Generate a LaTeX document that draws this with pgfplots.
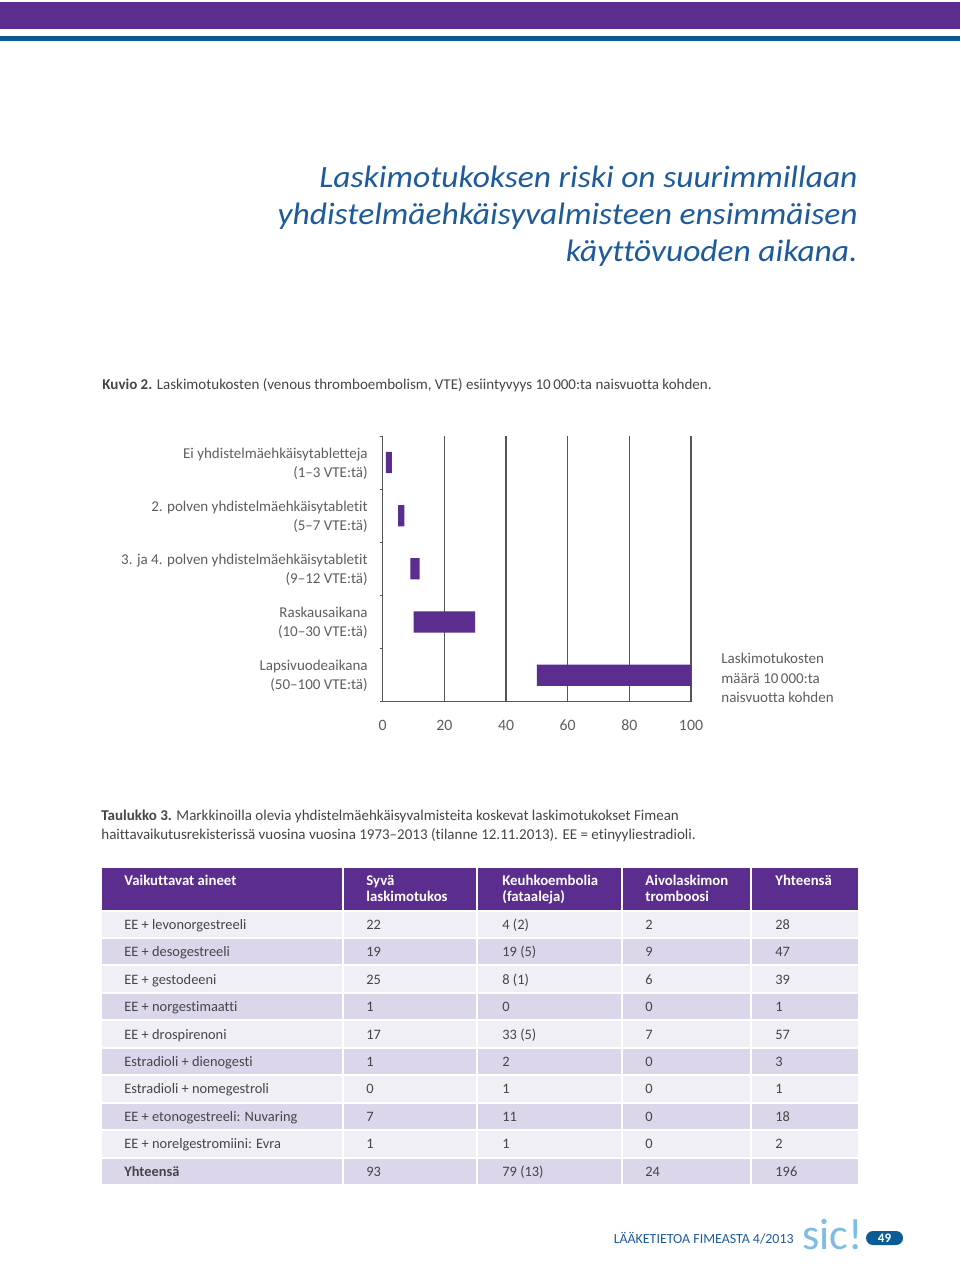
\documentclass[border=0pt]{standalone}
\usepackage{pgfplots}
\pgfplotsset{compat=1.18}
\usepackage{fontspec}
\setmainfont[Ligatures=NoCommon]{Carlito}
\newfontfamily\titlefont[FakeStretch=1.08,Ligatures=NoCommon]{Carlito}
\definecolor{vpurple}{HTML}{5B2D8E}
\definecolor{vblue}{HTML}{0B5C94}
\definecolor{tblue}{HTML}{1E5B9C}
\definecolor{txt}{HTML}{454545}
\definecolor{gtxt}{HTML}{5E5E5E}
\definecolor{gridc}{HTML}{555555}
\definecolor{rowA}{HTML}{F1EFF6}
\definecolor{rowB}{HTML}{DCD6EA}
\definecolor{sicblue}{HTML}{7DBDE3}
\begin{document}
\begin{tikzpicture}[x=0.5pt,y=-0.5pt]
\path[use as bounding box, fill=white] (0,0) rectangle (960,1277);
% header bands
\fill[vpurple] (0,2) rectangle (960,29);
\fill[vblue] (0,36) rectangle (960,41);
% title
\begin{scope}[every node/.style={anchor=base east, inner sep=0, text=tblue, font=\titlefont\fontsize{15.5}{18}\selectfont\itshape}]
\node at (858,188) {Laskimotukoksen riski on suurimmillaan};
\node at (858,225) {yhdistelmäehkäisyvalmisteen ensimmäisen};
\node at (858,262) {käyttövuoden aikana.};
\end{scope}
% figure caption
\node[anchor=base west, inner sep=0, text=txt, font=\fontsize{7.5}{9}\selectfont] at (102,390) {\textbf{Kuvio 2.} Laskimotukosten (venous thromboembolism, VTE) esiintyvyys 10\,000:ta naisvuotta kohden.};
% category labels
\begin{scope}[every node/.style={anchor=east, align=right, inner sep=0, text=gtxt, font=\fontsize{7.5}{9.5}\selectfont}]
\node at (368,464) {Ei yhdistelmäehkäisytabletteja\\(1–3 VTE:tä)};
\node at (368,517) {2. polven yhdistelmäehkäisytabletit\\(5–7 VTE:tä)};
\node at (368,570) {3. ja 4. polven yhdistelmäehkäisytabletit\\(9–12 VTE:tä)};
\node at (368,623) {Raskausaikana\\(10–30 VTE:tä)};
\node at (368,676) {Lapsivuodeaikana\\(50–100 VTE:tä)};
\end{scope}
\node[anchor=west, align=left, inner sep=0, text=gtxt, font=\fontsize{7.5}{9.75}\selectfont] at (721,678) {Laskimotukosten\\määrä 10\,000:ta\\naisvuotta kohden};
% chart
\begin{axis}[
  at={(191.35pt,-350.85pt)}, anchor=south west, scale only axis,
  width=154.15pt, height=132.85pt,
  xmin=0, xmax=100, ymin=0, ymax=5,
  xbar stacked, bar width=0.4,
  axis lines=left, axis line style={-, draw=gridc, line width=0.6pt},
  xtick={0,20,40,60,80,100},
  ytick={0,1,2,3,4,5}, yticklabels={},
  xmajorgrids, grid style={draw=gridc, line width=0.6pt},
  x tick style={draw=none},
  y tick style={draw=gridc, line width=0.5pt},
  tick align=outside, major tick length=1.5pt,
  xticklabel style={font=\fontsize{7.9}{9}\selectfont, text=gtxt, yshift=-4pt},
  /pgf/number format/assume math mode=true,
  clip=false,
]
\addplot[draw=none, fill=none] coordinates {(1,4.5) (5,3.5) (9,2.5) (10,1.5) (50,0.5)};
\addplot[draw=none, fill=vpurple] coordinates {(2,4.5) (2,3.5) (3,2.5) (20,1.5) (50,0.5)};
\end{axis}
% table caption
\node[anchor=base west, inner sep=0, text=txt, font=\fontsize{7.5}{9}\selectfont] at (101,820) {\textbf{Taulukko 3.} Markkinoilla olevia yhdistelmäehkäisyvalmisteita koskevat laskimotukokset Fimean};
\node[anchor=base west, inner sep=0, text=txt, font=\fontsize{7.5}{9}\selectfont] at (101,839) {haittavaikutusrekisterissä vuosina vuosina 1973–2013 (tilanne 12.11.2013). EE = etinyyliestradioli.};
% table header
\foreach \xa/\xb in {102/342,344/476,478/621,623/750,752/858}{
  \fill[vpurple] (\xa,868) rectangle (\xb,910);
}
\begin{scope}[every node/.style={anchor=north west, align=left, inner sep=0, text=white, font=\fontsize{7.4}{8}\selectfont\bfseries}]
\node at (124,875) {Vaikuttavat aineet};
\node at (366,875) {Syvä\\laskimotukos};
\node at (502,875) {Keuhkoembolia\\(fataaleja)};
\node at (645,875) {Aivolaskimon\\tromboosi};
\node at (775,875) {Yhteensä};
\end{scope}
% table body
\foreach \cc/\a/\b/\c/\d/\e [count=\i] in {
 rowA/EE + levonorgestreeli/22/4 (2)/2/28,
 rowB/EE + desogestreeli/19/19 (5)/9/47,
 rowA/EE + gestodeeni/25/8 (1)/6/39,
 rowB/EE + norgestimaatti/1/0/0/1,
 rowA/EE + drospirenoni/17/33 (5)/7/57,
 rowB/Estradioli + dienogesti/1/2/0/3,
 rowA/Estradioli + nomegestroli/0/1/0/1,
 rowB/EE + etonogestreeli: Nuvaring/7/11/0/18,
 rowA/EE + norelgestromiini: Evra/1/1/0/2,
 rowB/\textbf{Yhteensä}/93/79 (13)/24/196}{
  \pgfmathsetmacro{\yt}{911.5+27.45*(\i-1)}
  \pgfmathsetmacro{\yb}{\yt+25.4}
  \pgfmathsetmacro{\yc}{\yt+12.7+5}
  \foreach \xa/\xb in {102/342,344/476,478/621,623/750,752/858}{
    \fill[\cc] (\xa,\yt) rectangle (\xb,\yb);
  }
  \begin{scope}[every node/.style={anchor=base west, inner sep=0, text=txt, font=\fontsize{7.2}{8}\selectfont}]
  \node at (124,\yc) {\a};
  \node at (366,\yc) {\b};
  \node at (502,\yc) {\c};
  \node at (645,\yc) {\d};
  \node at (775,\yc) {\e};
  \end{scope}
}
% footer
\node[anchor=base east, inner sep=0, text=tblue, font=\fontsize{6.95}{8}\selectfont] at (794,1243) {LÄÄKETIETOA FIMEASTA 4/2013};
\node[anchor=base west, inner sep=0, text=sicblue, font=\fontsize{22}{24}\selectfont] at (802,1249) {sic!};
\fill[vblue, rounded corners=3.5pt] (866,1231) rectangle (903,1245);
\node[inner sep=0, text=white, font=\fontsize{6.5}{7}\selectfont\bfseries] at (884.5,1238.5) {49};
\end{tikzpicture}
\end{document}
